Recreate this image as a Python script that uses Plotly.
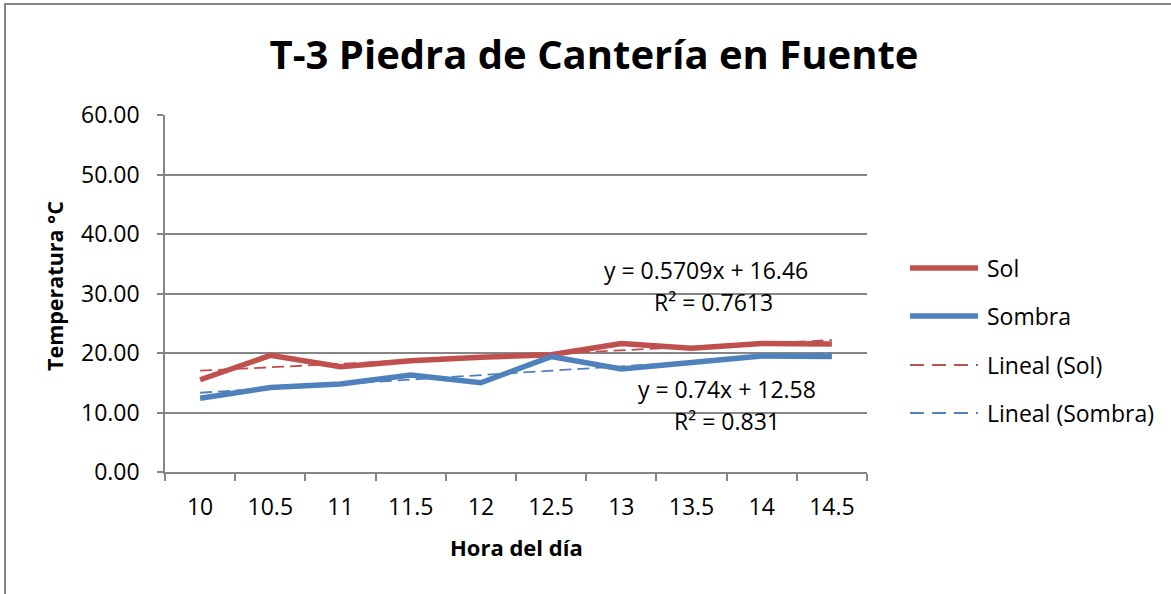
import plotly.graph_objects as go

# Hour of day (categories) and measured temperatures (°C)
horas = ["10", "10.5", "11", "11.5", "12", "12.5", "13", "13.5", "14", "14.5"]
sol = [15.5, 19.6, 17.7, 18.7, 19.3, 19.7, 21.6, 20.8, 21.6, 21.5]
sombra = [12.4, 14.2, 14.8, 16.3, 15.0, 19.4, 17.3, 18.3, 19.5, 19.4]

# Linear trend coefficients (x = category index 1..n)
sol_slope, sol_intercept, sol_r2 = 0.5709, 16.46, 0.7613
sombra_slope, sombra_intercept, sombra_r2 = 0.74, 12.58, 0.831

series_names = ["Sol", "Sombra", "Lineal (Sol)", "Lineal (Sombra)"]
y_ticks = [0, 10, 20, 30, 40, 50, 60]

RED = "#C0504D"
BLUE = "#4F81BD"
GRID = "#868686"
FONT = "Open Sans"

W, H = 1171, 594
L, R, T, B = 165, 867, 115, 472  # plot area in pixels


def px(x):
    return (x - L) / (R - L)


def py(y):
    return (B - y) / (B - T)


idx = list(range(1, len(horas) + 1))
sol_trend = [sol_slope * i + sol_intercept for i in idx]
sombra_trend = [sombra_slope * i + sombra_intercept for i in idx]

fig = go.Figure()
fig.add_trace(go.Scatter(x=horas, y=sol_trend, mode="lines",
                         line=dict(color=RED, width=1.8, dash="12px,6px"),
                         name=series_names[2], showlegend=False))
fig.add_trace(go.Scatter(x=horas, y=sombra_trend, mode="lines",
                         line=dict(color=BLUE, width=1.8, dash="12px,6px"),
                         name=series_names[3], showlegend=False))
fig.add_trace(go.Scatter(x=horas, y=sol, mode="lines",
                         line=dict(color=RED, width=5.5),
                         name=series_names[0], showlegend=False))
fig.add_trace(go.Scatter(x=horas, y=sombra, mode="lines",
                         line=dict(color=BLUE, width=5.5),
                         name=series_names[1], showlegend=False))

shapes = [
    # outer chart frame
    dict(type="rect", xref="paper", yref="paper",
         x0=px(5), x1=px(1172), y0=py(600), y1=py(4),
         line=dict(color=GRID, width=2), layer="below"),
]
annotations = []

# legend built from the series names
legend_rows = [(series_names[0], RED, "solid", 5.5),
               (series_names[1], BLUE, "solid", 5.5),
               (series_names[2], RED, "14px,8px", 1.8),
               (series_names[3], BLUE, "14px,8px", 1.8)]
legend_y = [268, 316, 365, 413]
for (name, color, dash, width), yy in zip(legend_rows, legend_y):
    shapes.append(dict(type="line", xref="paper", yref="paper",
                       x0=px(910), x1=px(978), y0=py(yy), y1=py(yy),
                       line=dict(color=color, width=width, dash=dash)))
    annotations.append(dict(xref="paper", yref="paper", x=px(985), y=py(yy),
                            xanchor="left", yanchor="middle", text=name,
                            showarrow=False, font=dict(family=FONT, size=23, color="#000")))

# trendline equations
eqs = [
    (f"y = {sol_slope}x + {sol_intercept}", 706, 270),
    (f"R² = {sol_r2}", 713, 302),
    (f"y = {sombra_slope}x + {sombra_intercept}", 727, 389),
    (f"R² = {sombra_r2}", 727, 421),
]
for text, xx, yy in eqs:
    annotations.append(dict(xref="paper", yref="paper", x=px(xx), y=py(yy),
                            xanchor="center", yanchor="middle", text=text,
                            showarrow=False, font=dict(family=FONT, size=23, color="#000")))

# axis titles
annotations.append(dict(xref="paper", yref="paper", x=px(516), y=py(547),
                        xanchor="center", yanchor="middle", text="<b>Hora del día</b>",
                        showarrow=False, font=dict(family=FONT, size=22, color="#000")))
annotations.append(dict(xref="paper", yref="paper", x=px(54), y=py(286),
                        xanchor="center", yanchor="middle", text="<b>Temperatura °C</b>",
                        textangle=-90, showarrow=False,
                        font=dict(family=FONT, size=21.5, color="#000")))

fig.update_layout(
    width=W, height=H,
    margin=dict(l=L, r=W - R, t=T, b=H - B, pad=0),
    paper_bgcolor="white", plot_bgcolor="white",
    title=dict(text="<b>T-3 Piedra de Cantería en Fuente</b>",
               xref="container", yref="container",
               x=594 / W, y=1 - 55 / H, xanchor="center", yanchor="middle",
               font=dict(family=FONT, size=40, color="#000")),
    xaxis=dict(type="category", range=[-0.5, len(horas) - 0.5],
               tickson="boundaries", ticks="outside", ticklen=7, tickcolor=GRID,
               tickwidth=1.5, showgrid=False, showline=True, linecolor=GRID,
               linewidth=1.5, ticklabelstandoff=14,
               tickfont=dict(family=FONT, size=23, color="#000")),
    yaxis=dict(range=[0, 60], tickvals=y_ticks, tickformat=".2f",
               ticks="outside", ticklen=6, tickcolor=GRID, tickwidth=1.5,
               showgrid=True, gridcolor=GRID, gridwidth=1.5,
               showline=True, linecolor=GRID, linewidth=1.5,
               zeroline=False, ticklabelstandoff=13,
               tickfont=dict(family=FONT, size=23, color="#000")),
    shapes=shapes, annotations=annotations,
)

fig.write_html("out.html")
